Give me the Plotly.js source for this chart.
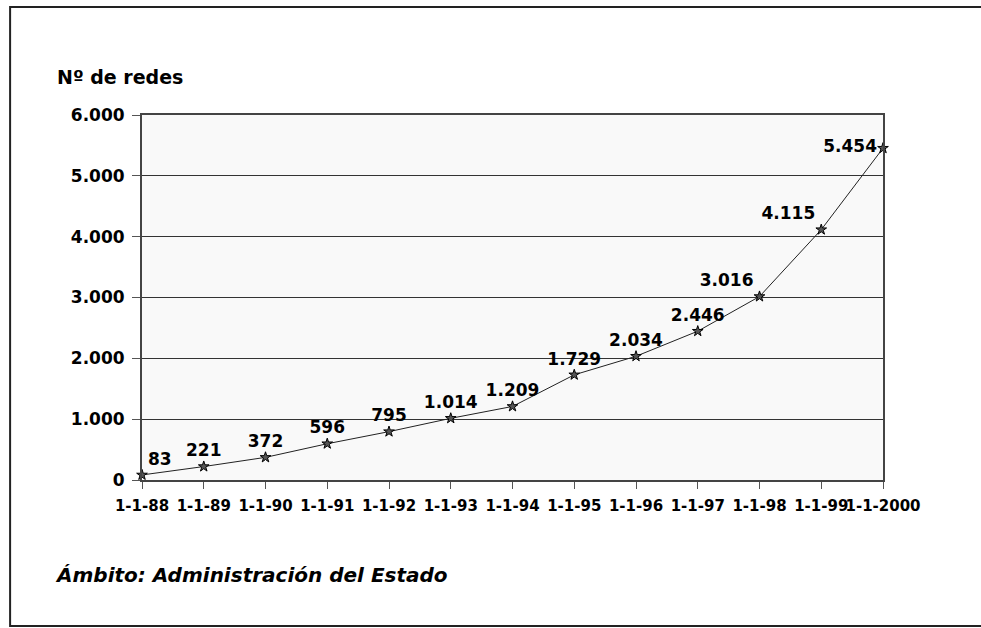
<!DOCTYPE html>
<html>
<head>
<meta charset="utf-8">
<script src="https://cdn.plot.ly/plotly-3.0.1.min.js"></script>
<style>
html,body{margin:0;padding:0;background:#fff;}
#chart{width:981px;height:628px;}
</style>
</head>
<body>
<div id="chart"></div>
<script>
// ---- data ----
const categories = ['1-1-88','1-1-89','1-1-90','1-1-91','1-1-92','1-1-93','1-1-94','1-1-95','1-1-96','1-1-97','1-1-98','1-1-99','1-1-2000'];
const redes = [83, 221, 372, 596, 795, 1014, 1209, 1729, 2034, 2446, 3016, 4115, 5454];
const yTitle = 'Nº de redes';
const footer = 'Ámbito: Administración del Estado';

function fmt(v){
  return String(Math.round(v)).replace(/\B(?=(\d{3})+(?!\d))/g, '.');
}

const labelPos = ['top right','top center','top center','top center','top center','top center','top center',
                  'top center','top center','top center','top left','top left','middle left'];

const FONT = 'DejaVu Sans';

const trace = {
  type: 'scatter',
  mode: 'lines+markers+text',
  x: categories,
  y: redes,
  text: redes.map(fmt),
  textposition: labelPos,
  textfont: {family: FONT, size: 17, weight: 'bold', color: '#000'},
  line: {color: '#222', width: 1},
  marker: {symbol: 'star', size: 8, color: '#555', line: {color: '#000', width: 1}},
  cliponaxis: false,
  hoverinfo: 'x+y'
};

const layout = {
  width: 981,
  height: 628,
  margin: {l: 142, r: 98, t: 115, b: 148},
  paper_bgcolor: '#ffffff',
  plot_bgcolor: '#f9f9f9',
  separators: ',.',
  showlegend: false,
  font: {family: FONT, color: '#000'},
  xaxis: {
    type: 'category',
    range: [0, categories.length - 1],
    tickangle: 0,
    ticks: 'outside',
    ticklen: 7,
    tickcolor: '#555',
    tickwidth: 1,
    ticklabelstandoff: 4,
    tickfont: {family: FONT, size: 15, weight: 'bold', color: '#000'},
    showgrid: false,
    showline: true,
    mirror: true,
    linecolor: '#444',
    linewidth: 2,
    zeroline: false,
    fixedrange: true
  },
  yaxis: {
    range: [0, 6000],
    dtick: 1000,
    tickformat: ',d',
    ticks: 'outside',
    ticklen: 8,
    tickcolor: '#555',
    tickwidth: 1,
    ticklabelstandoff: 4,
    tickfont: {family: FONT, size: 17, weight: 'bold', color: '#000'},
    showgrid: true,
    gridcolor: '#333',
    gridwidth: 1,
    showline: true,
    mirror: true,
    linecolor: '#444',
    linewidth: 2,
    zeroline: false,
    fixedrange: true
  },
  annotations: [
    {
      xref: 'paper', yref: 'paper',
      x: -0.1174, y: 1.104,
      xanchor: 'left', yanchor: 'middle',
      text: yTitle, showarrow: false,
      font: {family: FONT, size: 19, weight: 'bold', color: '#000'}
    },
    {
      xref: 'paper', yref: 'paper',
      x: -0.12, y: -0.26,
      xanchor: 'left', yanchor: 'middle',
      text: footer, showarrow: false,
      font: {family: FONT, size: 20, weight: 'bold', style: 'italic', color: '#000'}
    }
  ],
  shapes: [
    {
      type: 'path', xref: 'paper', yref: 'paper',
      path: 'M 1.5 1.296 L -0.178 1.296 L -0.178 -0.4 L 1.5 -0.4',
      line: {color: '#222', width: 2},
      layer: 'below'
    }
  ]
};

Plotly.newPlot('chart', [trace], layout, {displayModeBar: false, staticPlot: true});
</script>
</body>
</html>
